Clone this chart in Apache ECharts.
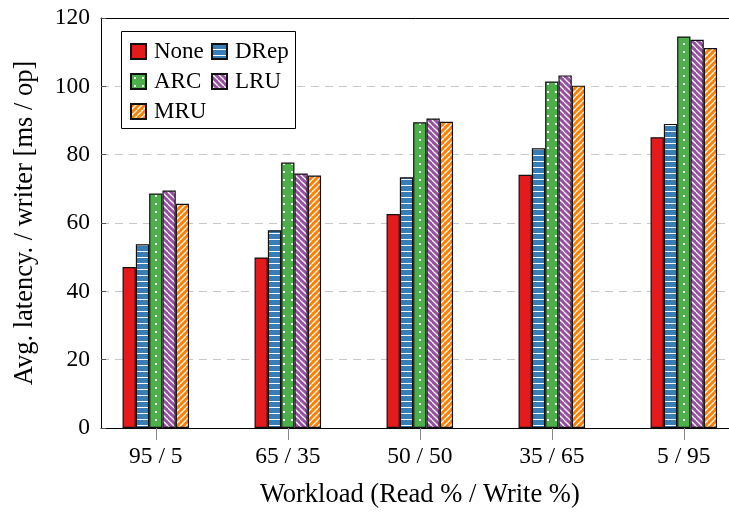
<!DOCTYPE html>
<html>
<head>
<meta charset="utf-8">
<script src="https://cdn.jsdelivr.net/npm/echarts@6/dist/echarts.min.js"></script>
<style>
html,body{margin:0;padding:0;background:#fff;}
#chart{width:729px;height:516px;}
</style>
</head>
<body>
<div id="chart"></div>
<script>
// ---- data ----
var categories = ['95 / 5', '65 / 35', '50 / 50', '35 / 65', '5 / 95'];
var seriesNames = ['None', 'DRep', 'ARC', 'LRU', 'MRU'];
var noneVals = [47.1, 49.9, 62.6, 74.1, 85.1];
var drepVals = [53.8, 57.9, 73.4, 81.9, 89.0];
var arcVals  = [68.6, 77.7, 89.5, 101.4, 114.6];
var lruVals  = [69.5, 74.5, 90.6, 103.2, 113.6];
var mruVals  = [65.6, 73.9, 89.6, 100.2, 111.2];

// ---- patterns ----
function makeCanvas(s, bg) {
  var c = document.createElement('canvas');
  c.width = s; c.height = s;
  var g = c.getContext('2d');
  g.fillStyle = bg; g.fillRect(0, 0, s, s);
  return {c: c, g: g};
}
function solid(color) { return color; }
function hlines(color) {
  var o = makeCanvas(6, color);
  o.g.fillStyle = '#fff';
  o.g.fillRect(0, 5, 6, 1);
  return {image: o.c, repeat: 'repeat'};
}
function dots(color) {
  var o = makeCanvas(8, color);
  o.g.fillStyle = '#fff';
  o.g.fillRect(3, 3, 2, 2);
  return {image: o.c, repeat: 'repeat'};
}
function diag(color, dir) {
  var s = 6;
  var o = makeCanvas(s, color);
  var g = o.g;
  g.strokeStyle = '#fff'; g.lineWidth = 1.3;
  for (var k = -1; k <= 1; k++) {
    var x0 = k * s;
    g.beginPath();
    if (dir === 'back') { g.moveTo(x0, 0); g.lineTo(x0 + s, s); }
    else { g.moveTo(x0, s); g.lineTo(x0 + s, 0); }
    g.stroke();
  }
  return {image: o.c, repeat: 'repeat'};
}

var fills = [
  solid('#e41a1c'),
  hlines('#377eb8'),
  dots('#4daf4a'),
  diag('#984ea3', 'back'),
  diag('#ff7f00', 'fwd')
];
var valueSets = [noneVals, drepVals, arcVals, lruVals, mruVals];

var FONT = 'Liberation Serif';
var TICK_FS = 23.5;
var TITLE_FS = 26.5;
var series = seriesNames.map(function (n, i) {
  return {
    name: n,
    type: 'bar',
    xAxisIndex: 1,
    yAxisIndex: 1,
    barWidth: 13.3,
    barGap: '0%',
    data: valueSets[i],
    itemStyle: {color: fills[i], borderColor: '#111', borderWidth: 1.2},
    emphasis: {disabled: true},
    z: 3
  };
});

// separate legends placed in a 2-column layout
var legendPos = [
  {left: 130, top: 40}, {left: 211, top: 40},
  {left: 130, top: 70}, {left: 211, top: 70},
  {left: 130, top: 100}
];
var legends = seriesNames.map(function (n, i) {
  return {
    data: [n],
    left: legendPos[i].left,
    top: legendPos[i].top,
    padding: 0,
    itemWidth: 15,
    itemHeight: 15,
    itemGap: 0,
    icon: 'rect',
    selectedMode: false,
    textStyle: {fontFamily: FONT, fontSize: 23, color: '#000', padding: [0, 0, 0, 3]},
    z: 5
  };
});

var chart = echarts.init(document.getElementById('chart'), null, {renderer: 'canvas'});
chart.setOption({
  animation: false,
  backgroundColor: '#fff',
  grid: [
    {left: 101, top: 18, width: 637.6, height: 410, outerBoundsMode: 'none', show: false},
    {left: 89.8, top: 18, width: 660, height: 410, outerBoundsMode: 'none'}
  ],
  xAxis: [
    {
      type: 'value', gridIndex: 0, min: 0, max: 1, position: 'bottom',
      axisLine: {show: true, onZero: false, lineStyle: {color: '#000', width: 1}},
      axisTick: {show: false}, axisLabel: {show: false}, splitLine: {show: false},
      name: 'Workload (Read % / Write %)', nameLocation: 'middle', nameGap: 54,
      nameTextStyle: {fontFamily: FONT, fontSize: TITLE_FS, color: '#000'}
    },
    {
      type: 'category', gridIndex: 1, data: categories,
      axisLine: {show: false},
      axisTick: {show: true, alignWithLabel: true, length: 12, lineStyle: {color: '#888', width: 1}},
      axisLabel: {fontFamily: FONT, fontSize: TICK_FS, color: '#000', margin: 17},
      splitLine: {show: false}
    },
    {
      type: 'value', gridIndex: 0, min: 0, max: 1, position: 'top',
      axisLine: {show: true, onZero: false, lineStyle: {color: '#000', width: 1}},
      axisTick: {show: false}, axisLabel: {show: false}, splitLine: {show: false}
    }
  ],
  yAxis: [
    {
      type: 'value', gridIndex: 0, min: 0, max: 120, interval: 20,
      axisLine: {show: true, lineStyle: {color: '#000', width: 1}},
      axisTick: {show: true, inside: true, length: 5, lineStyle: {color: '#555'}},
      axisLabel: {fontFamily: FONT, fontSize: TICK_FS, color: '#000', margin: 11},
      splitLine: {show: true, lineStyle: {color: '#c8c8c8', type: [8, 6], width: 1}},
      name: 'Avg. latency. / writer [ms / op]', nameLocation: 'middle', nameGap: 62,
      nameTextStyle: {fontFamily: FONT, fontSize: TITLE_FS, color: '#000'}
    },
    {
      type: 'value', gridIndex: 1, min: 0, max: 120, show: false
    }
  ],
  legend: legends,
  graphic: [{
    type: 'rect', z: 4,
    shape: {x: 121.5, y: 31.5, width: 174, height: 97},
    style: {fill: '#fff', stroke: '#000', lineWidth: 1}
  }],
  series: series
});
</script>
</body>
</html>
